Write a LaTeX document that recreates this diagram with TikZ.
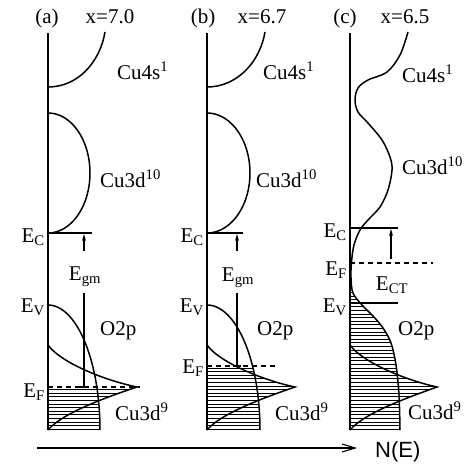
\documentclass[tikz,border=0pt]{standalone}
\usepackage{fontspec}
\setmainfont{Liberation Serif}
\newfontfamily\sansfam{Liberation Sans}
\usetikzlibrary{arrows.meta}
\begin{document}
\begin{tikzpicture}[x=1pt,y=-1pt,
  axisline/.style={line width=2pt},
  dos/.style={line width=1.5pt},
  hatchline/.style={line width=0.9pt},
  level/.style={line width=1.3pt},
  fermi/.style={line width=1.1pt, dash pattern=on 5pt off 4pt},
  lbl/.style={inner sep=0pt, font=\fontsize{21}{23}\selectfont},
  gaparrow/.style={line width=1.1pt, -{Stealth[length=7pt,width=4pt]}},
]
\useasboundingbox (0,0) rectangle (474,464);

% ---------------- panel (a)
\begin{scope}[xshift=48pt]
  \coordinate (aT) at (0,33); \coordinate (aB) at (0,430);
  % hatching
  \begin{scope}
    \clip (0,305) -- plot[variable=\t,domain=0:90,samples=50] ({52*sin(\t)},{430-125*cos(\t)}) -- (0,430) -- cycle;
    \foreach \i in {0,...,11} \draw[hatchline] (0,{429.3-3.6*\i}) -- (100,{429.3-3.6*\i});
  \end{scope}
  \begin{scope}
    \clip (0,345) .. controls (12,362) and (55,380) .. (89,387) .. controls (65,395) and (15,412) .. (0,430) -- cycle;
    \foreach \i in {0,...,11} \draw[hatchline] (0,{429.3-3.6*\i}) -- (100,{429.3-3.6*\i});
  \end{scope}
  % DOS curves
  \draw[dos] (0,87) .. controls (30,87) and (52,62) .. (57,32);
  \draw[dos] plot[variable=\t,domain=-90:90,samples=60] ({42*cos(\t)},{173+60*sin(\t)});
  \draw[dos] plot[variable=\t,domain=0:90,samples=50] ({52*sin(\t)},{430-125*cos(\t)});
  \draw[dos] (0,345) .. controls (12,362) and (55,380) .. (89,387) .. controls (65,395) and (15,412) .. (0,430);
  \draw[axisline] (aT) -- (aB);
  % levels
  \coordinate (aEC0) at (0,233); \coordinate (aEC1) at (44,233);
  \draw[level] (aEC0) -- (aEC1);
  \coordinate (aEF0) at (0,387); \coordinate (aEF1) at (92,387);
  \draw[fermi] (aEF0) -- (aEF1);
  \coordinate (aAr0) at (36,251); \coordinate (aAr1) at (36,234);
  \draw[gaparrow] (aAr0) -- (aAr1);
  \coordinate (aG0) at (36,293); \coordinate (aG1) at (36,387);
  \draw[level] (aG0) -- (aG1);
  \coordinate (aK0) at (32,387); \coordinate (aK1) at (40,387);
  \draw[level] (aK0) -- (aK1);
  % labels
  \node[lbl,anchor=base] (atit) at (-1,23) {(a)};
  \node[lbl,anchor=base] (ax) at (62,23) {x=7.0};
  \node[lbl,anchor=base west] (a4s) at (69,79) {Cu4s\textsuperscript{1}};
  \node[lbl,anchor=base west] (a3d10) at (52,187) {Cu3d\textsuperscript{10}};
  \node[lbl,anchor=base west] (a2p) at (52,335) {O2p};
  \node[lbl,anchor=base west] (a3d9) at (67,420) {Cu3d\textsuperscript{9}};
  \node[lbl,anchor=base east] (aEC) at (-3,242) {E\textsubscript{C}};
  \node[lbl,anchor=base east] (aEV) at (-3,312) {E\textsubscript{V}};
  \node[lbl,anchor=base east] (aEF) at (-3,397) {E\textsubscript{F}};
  \node[lbl,anchor=base] (aEgm) at (37,280) {E\textsubscript{gm}};
\end{scope}

% ---------------- panel (b)
\begin{scope}[xshift=207pt]
  \coordinate (bT) at (0,33); \coordinate (bB) at (0,430);
  \begin{scope}
    \clip (0,305) -- plot[variable=\t,domain=0:90,samples=50] ({53*sin(\t)},{430-125*cos(\t)}) -- (0,430) -- cycle;
    \foreach \i in {0,...,17} \draw[hatchline] (0,{429.3-3.6*\i}) -- (100,{429.3-3.6*\i});
  \end{scope}
  \begin{scope}
    \clip (0,345) .. controls (12,362) and (55,380) .. (88,387) .. controls (65,395) and (15,412) .. (0,430) -- cycle;
    \foreach \i in {0,...,17} \draw[hatchline] (0,{429.3-3.6*\i}) -- (100,{429.3-3.6*\i});
  \end{scope}
  \draw[dos] (0,87) .. controls (30,87) and (53,62) .. (58,32);
  \draw[dos] plot[variable=\t,domain=-90:90,samples=60] ({43*cos(\t)},{173+60*sin(\t)});
  \draw[dos] plot[variable=\t,domain=0:90,samples=50] ({53*sin(\t)},{430-125*cos(\t)});
  \draw[dos] (0,345) .. controls (12,362) and (55,380) .. (88,387) .. controls (65,395) and (15,412) .. (0,430);
  \draw[axisline] (bT) -- (bB);
  \coordinate (bEC0) at (0,233); \coordinate (bEC1) at (36,233);
  \draw[level] (bEC0) -- (bEC1);
  \coordinate (bEF0) at (0,366); \coordinate (bEF1) at (68,366);
  \draw[fermi] (bEF0) -- (bEF1);
  \coordinate (bAr0) at (30,251); \coordinate (bAr1) at (30,234);
  \draw[gaparrow] (bAr0) -- (bAr1);
  \coordinate (bG0) at (30,293); \coordinate (bG1) at (30,366);
  \draw[level] (bG0) -- (bG1);
  \coordinate (bK0) at (26,366); \coordinate (bK1) at (34,366);
  \draw[level] (bK0) -- (bK1);
  \node[lbl,anchor=base] (btit) at (-4,23) {(b)};
  \node[lbl,anchor=base] (bx) at (55,23) {x=6.7};
  \node[lbl,anchor=base west] (b4s) at (56,79) {Cu4s\textsuperscript{1}};
  \node[lbl,anchor=base west] (b3d10) at (49,187) {Cu3d\textsuperscript{10}};
  \node[lbl,anchor=base west] (b2p) at (50,335) {O2p};
  \node[lbl,anchor=base west] (b3d9) at (68,420) {Cu3d\textsuperscript{9}};
  \node[lbl,anchor=base east] (bEC) at (-3,242) {E\textsubscript{C}};
  \node[lbl,anchor=base east] (bEV) at (-3,312) {E\textsubscript{V}};
  \node[lbl,anchor=base east] (bEF) at (-3,373) {E\textsubscript{F}};
  \node[lbl,anchor=base] (bEgm) at (31,281) {E\textsubscript{gm}};
\end{scope}

% ---------------- panel (c)
\begin{scope}[xshift=350pt]
  \coordinate (cT) at (0,33); \coordinate (cB) at (0,430);
  \begin{scope}
    \clip (0,32) -- plot[smooth,tension=0.55] coordinates {(58,32) (50,55) (37,72) (18,80) (8,88) (5,100) (8,112) (18,123) (32,140) (40,157) (42,170) (38,190) (30,207) (18,220) (10,230) (4,245) (1.5,262) (1,278) (3,293) (12,305) (23,316) (33,328) (41,343) (46,365) (49,395) (50,430)} -- (0,430) -- cycle;
    \foreach \i in {0,...,38} \draw[hatchline] (0,{429.3-3.6*\i}) -- (100,{429.3-3.6*\i});
  \end{scope}
  \begin{scope}
    \clip (0,345) .. controls (12,362) and (55,380) .. (87,387) .. controls (65,395) and (15,412) .. (0,430) -- cycle;
    \foreach \i in {0,...,24} \draw[hatchline] (0,{429.3-3.6*\i}) -- (100,{429.3-3.6*\i});
  \end{scope}
  \draw[dos] plot[smooth,tension=0.55] coordinates {(58,32) (50,55) (37,72) (18,80) (8,88) (5,100) (8,112) (18,123) (32,140) (40,157) (42,170) (38,190) (30,207) (18,220) (10,230) (4,245) (1.5,262) (1,278) (3,293) (12,305) (23,316) (33,328) (41,343) (46,365) (49,395) (50,430)};
  \draw[dos] (0,345) .. controls (12,362) and (55,380) .. (87,387) .. controls (65,395) and (15,412) .. (0,430);
  \draw[axisline] (cT) -- (cB);
  \coordinate (cEC0) at (0,228); \coordinate (cEC1) at (48,228);
  \draw[level] (cEC0) -- (cEC1);
  \coordinate (cEV0) at (0,303); \coordinate (cEV1) at (48,303);
  \draw[level] (cEV0) -- (cEV1);
  \coordinate (cEF0) at (0,263); \coordinate (cEF1) at (83,263);
  \draw[fermi] (cEF0) -- (cEF1);
  \coordinate (cAr0) at (41,259); \coordinate (cAr1) at (41,229);
  \draw[gaparrow] (cAr0) -- (cAr1);
  \node[lbl,anchor=base] (ctit) at (-5,23) {(c)};
  \node[lbl,anchor=base] (cx) at (55,23) {x=6.5};
  \node[lbl,anchor=base west] (c4s) at (52,82) {Cu4s\textsuperscript{1}};
  \node[lbl,anchor=base west] (c3d10) at (52,174) {Cu3d\textsuperscript{10}};
  \node[lbl,anchor=base west] (c2p) at (48,335) {O2p};
  \node[lbl,anchor=base west] (c3d9) at (58,419) {Cu3d\textsuperscript{9}};
  \node[lbl,anchor=base east] (cEC) at (-3,237) {E\textsubscript{C}};
  \node[lbl,anchor=base east] (cEF) at (-3,275) {E\textsubscript{F}};
  \node[lbl,anchor=base east] (cEV) at (-3,312) {E\textsubscript{V}};
  \node[lbl,anchor=base] (cECT) at (42,290) {E\textsubscript{CT}};
\end{scope}

% ---------------- energy-axis arrow
\coordinate (nA) at (37,448);
\node[inner sep=0pt,anchor=base west,font=\sansfam\fontsize{22}{24}\selectfont] (NE) at (375,457) {N(E)};
\coordinate (nB) at (357,448);
\draw[line width=1.3pt,-{Straight Barb[length=13pt,width=8pt,line width=1.1pt]}] (nA) -- (nB);
\end{tikzpicture}
\end{document}
